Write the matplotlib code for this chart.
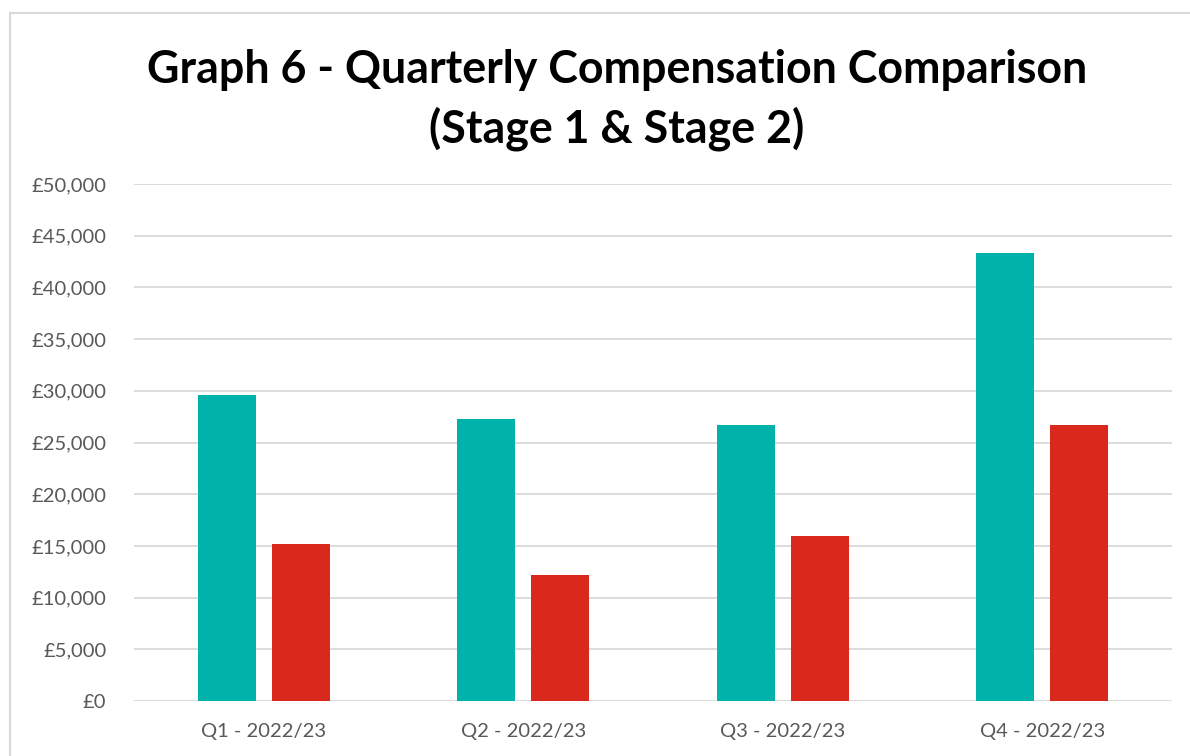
import numpy as np
import matplotlib.pyplot as plt
from matplotlib.lines import Line2D
from matplotlib.ticker import FuncFormatter

plt.rcParams['font.family'] = ['Lato', 'DejaVu Sans']

quarters = ['Q1 - 2022/23', 'Q2 - 2022/23', 'Q3 - 2022/23', 'Q4 - 2022/23']
stage1 = [29600, 27300, 26700, 43350]
stage2 = [15150, 12200, 16000, 26700]

teal = '#00B2A9'
red = '#DA291C'
grid_col = '#D9D9D9'
text_col = '#595959'

fig = plt.figure(figsize=(11.9, 7.56), dpi=100)
ax = fig.add_axes([134 / 1190, 1 - 701 / 756, (1172 - 134) / 1190, (701 - 184) / 756])

x = np.arange(len(quarters))
w = 0.2235
off = 0.1426
ax.bar(x - off, stage1, w, color=teal, zorder=3, label='Stage 1')
ax.bar(x + off, stage2, w, color=red, zorder=3, label='Stage 2')

ax.set_xlim(-0.5, 3.5)
ax.set_ylim(0, 50000)
ax.set_yticks(np.arange(0, 50001, 5000))
ax.yaxis.set_major_formatter(FuncFormatter(lambda v, p: '£{:,.0f}'.format(v)))
ax.set_xticks(x)
ax.set_xticklabels(quarters)
ax.tick_params(axis='both', length=0, colors=text_col, labelsize=14.5)
ax.tick_params(axis='y', pad=20)
ax.tick_params(axis='x', pad=16)
ax.grid(axis='y', color=grid_col, linewidth=1.3, zorder=0)
for s in ax.spines.values():
    s.set_visible(False)

# chart border (left and top visible)
fig.add_artist(Line2D([10 / 1190, 10 / 1190], [0, 1 - 13 / 756], transform=fig.transFigure,
                      color=grid_col, linewidth=1.5))
fig.add_artist(Line2D([10 / 1190, 1], [1 - 13 / 756, 1 - 13 / 756], transform=fig.transFigure,
                      color=grid_col, linewidth=1.5))

fig.text(617 / 1190, 1 - 100 / 756, 'Graph 6 - Quarterly Compensation Comparison\n(Stage 1 & Stage 2)',
         ha='center', va='center', fontsize=32.2, fontweight='bold', color='black', linespacing=1.45)

fig.savefig('out.png', dpi=100)
